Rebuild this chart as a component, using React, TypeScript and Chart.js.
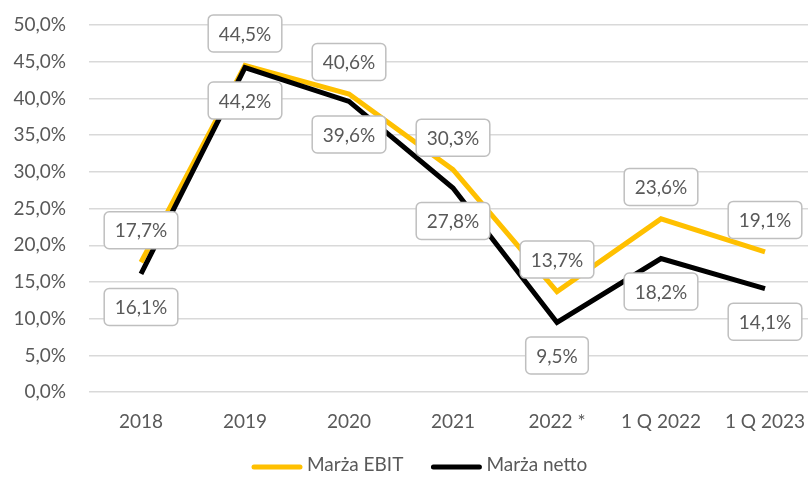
import React, { useEffect, useRef } from "react";
import { Chart, registerables } from "chart.js";

Chart.register(...registerables);

const categories = ["2018", "2019", "2020", "2021", "2022 *", "1 Q 2022", "1 Q 2023"];
const ebitValues = [17.7, 44.5, 40.6, 30.3, 13.7, 23.6, 19.1];
const nettoValues = [16.1, 44.2, 39.6, 27.8, 9.5, 18.2, 14.1];
const seriesLabels = ["Marża EBIT", "Marża netto"];
const seriesColors = ["#FFC000", "#000000"];
const yMin = 0;
const yMax = 50;
const yStep = 5;

const FONT = "Lato, 'Open Sans', sans-serif";
const TEXT = "#595959";

const fmt = (v: number) => v.toFixed(1).replace(".", ",") + "%";

const labelPlugin = {
  id: "boxLabels",
  afterDatasetsDraw(chart: any) {
    const ctx = chart.ctx;
    ctx.save();
    ctx.font = `19px ${FONT}`;
    ctx.textAlign = "center";
    ctx.textBaseline = "middle";
    chart.data.datasets.forEach((ds: any, di: number) => {
      const meta = chart.getDatasetMeta(di);
      const off = di === 0 ? -32 : 33;
      meta.data.forEach((pt: any, i: number) => {
        const txt = fmt(ds.data[i]);
        const w = ctx.measureText(txt).width + 21;
        const h = 37;
        const cx = pt.x;
        const cy = pt.y + off;
        ctx.beginPath();
        ctx.roundRect(cx - w / 2, cy - h / 2, w, h, 5);
        ctx.fillStyle = "#ffffff";
        ctx.fill();
        ctx.lineWidth = 1.5;
        ctx.strokeStyle = "#bfbfbf";
        ctx.stroke();
        ctx.fillStyle = TEXT;
        ctx.fillText(txt, cx, cy + 1);
      });
    });
    ctx.restore();
  },
};

const legendPlugin = {
  id: "customLegend",
  afterDraw(chart: any) {
    const ctx = chart.ctx;
    ctx.save();
    ctx.font = `19px ${FONT}`;
    ctx.textBaseline = "middle";
    ctx.textAlign = "left";
    const lineLen = 50;
    const gapText = 5;
    const gapItem = 28;
    const widths = seriesLabels.map((l) => lineLen + gapText + ctx.measureText(l).width);
    let x = 252;
    const y = 465;
    seriesLabels.forEach((l, i) => {
      ctx.beginPath();
      ctx.moveTo(x + 2, y + 2);
      ctx.lineTo(x + lineLen - 2, y + 2);
      ctx.lineWidth = 5;
      ctx.lineCap = "round";
      ctx.strokeStyle = seriesColors[i];
      ctx.stroke();
      ctx.fillStyle = TEXT;
      ctx.fillText(l, x + lineLen + gapText, y);
      x += widths[i] + gapItem;
    });
    ctx.restore();
  },
};

export default function App() {
  const ref = useRef<HTMLCanvasElement | null>(null);
  useEffect(() => {
    if (!ref.current) return;
    const chart = new Chart(ref.current, {
      type: "line",
      data: {
        labels: categories,
        datasets: [
          {
            label: seriesLabels[0],
            data: ebitValues,
            borderColor: seriesColors[0],
            backgroundColor: seriesColors[0],
            borderWidth: 5,
            pointRadius: 0,
            tension: 0,
            borderJoinStyle: "miter",
            order: 1,
          },
          {
            label: seriesLabels[1],
            data: nettoValues,
            borderColor: seriesColors[1],
            backgroundColor: seriesColors[1],
            borderWidth: 5,
            pointRadius: 0,
            tension: 0,
            borderJoinStyle: "miter",
            order: 0,
          },
        ],
      },
      options: {
        responsive: false,
        animation: false,
        layout: { padding: { top: 25, right: 13, bottom: 34, left: 0 } },
        plugins: {
          legend: { display: false },
          tooltip: { enabled: false },
        },
        scales: {
          x: {
            offset: true,
            grid: { display: false, offset: true },
            border: { display: false },
            ticks: {
              color: TEXT,
              font: { family: FONT, size: 19 },
              padding: 10,
              maxRotation: 0,
              autoSkip: false,
            },
          },
          y: {
            min: yMin,
            max: yMax,
            border: { display: false },
            grid: {
              color: "#d9d9d9",
              lineWidth: 1.5,
              drawTicks: true,
              tickLength: 23,
              tickColor: "rgba(0,0,0,0)",
            },
            ticks: {
              stepSize: yStep,
              color: TEXT,
              font: { family: FONT, size: 19 },
              padding: 0,
              callback: (v: any) => fmt(Number(v)),
            },
            afterFit(scale: any) {
              scale.width = 89;
            },
          },
        },
      },
      plugins: [labelPlugin, legendPlugin],
    });
    return () => chart.destroy();
  }, []);
  return (
    <div style={{ position: "fixed", left: 0, top: 0, width: 808, height: 477, overflow: "hidden", background: "#fff" }}>
      <canvas ref={ref} width={830} height={477} style={{ width: 830, height: 477, display: "block" }} />
    </div>
  );
}
